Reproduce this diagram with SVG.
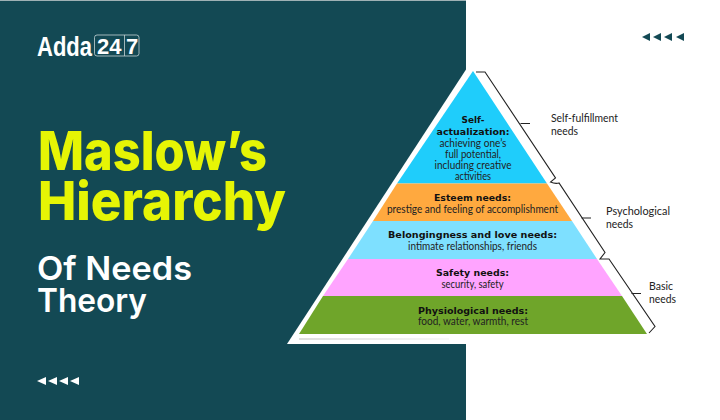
<svg xmlns="http://www.w3.org/2000/svg" width="720" height="420" viewBox="0 0 720 420">
<defs>
<linearGradient id="fade" x1="0" x2="1" y1="0" y2="0"><stop offset="0" stop-color="#bdbdbd"/><stop offset="1" stop-color="#f2f2f2"/></linearGradient>
</defs>
<style>
.title{font-family:"Inter","Liberation Sans",sans-serif;font-weight:800;font-size:54px;fill:#e6f505}
.sub{font-family:"Inter","Liberation Sans",sans-serif;font-weight:600;font-size:33px;fill:#fff}
.h{font-family:"DejaVu Sans","Liberation Sans",sans-serif;font-weight:700;font-size:9.5px;fill:#111;text-anchor:middle}
.b{font-family:"Lato","Liberation Sans",sans-serif;font-size:10.5px;fill:#222;text-anchor:middle}
.l{font-family:"Lato","Liberation Sans",sans-serif;font-size:11px;fill:#222}
.logo{font-family:"Liberation Sans",sans-serif;font-weight:700;fill:#fff}
.br{fill:none;stroke:#222;stroke-width:1.1}
</style>
<rect width="720" height="420" fill="#fff"/>
<g id="panel">
<rect width="466" height="420" fill="#134954"/>
<rect width="466" height="1" fill="#9fb1b5"/>
<polygon points="467,68 466,344 287,344" fill="#fff"/>
<rect x="466" y="60" width="10" height="290" fill="#fff"/>
<rect x="299" y="338.5" width="150" height="1" fill="url(#fade)"/>
</g>
<g id="logo">
<text class="logo" transform="translate(37,55.5) scale(1,1.25)" font-size="22">Adda</text>
<rect x="94.5" y="35" width="44.5" height="21" rx="2.5" fill="none" stroke="#c5d3d6" stroke-width="0.8"/>
<line x1="124.5" y1="35" x2="124.5" y2="56" stroke="#c5d3d6" stroke-width="0.8"/>
<text class="logo" x="97" y="53.5" font-size="22">24</text>
<text class="logo" x="126" y="53.5" font-size="22">7</text>
</g>
<g id="title">
<text class="title" x="38" y="170" textLength="229" lengthAdjust="spacingAndGlyphs">Maslow’s</text>
<text class="title" x="38" y="220" textLength="248" lengthAdjust="spacingAndGlyphs">Hierarchy</text>
<text class="sub" x="37" y="280" textLength="155" lengthAdjust="spacingAndGlyphs">Of Needs</text>
<text class="sub" x="37" y="312" textLength="110" lengthAdjust="spacingAndGlyphs">Theory</text>
</g>
<g id="pyramid-top">
<polygon points="473,71 547,183.5 397,183.5" fill="#1fcdfb"/>
<text class="h" x="473" y="123" textLength="23" lengthAdjust="spacingAndGlyphs">Self-</text>
<text class="h" x="473" y="135" textLength="73" lengthAdjust="spacingAndGlyphs">actualization:</text>
<text class="b" x="473" y="147" textLength="67" lengthAdjust="spacingAndGlyphs">achieving one’s</text>
<text class="b" x="473" y="158" textLength="56" lengthAdjust="spacingAndGlyphs">full potential,</text>
<text class="b" x="473" y="169" textLength="77" lengthAdjust="spacingAndGlyphs">including creative</text>
<text class="b" x="473" y="180" textLength="36" lengthAdjust="spacingAndGlyphs">activities</text>
</g>
<g id="pyramid-esteem">
<polygon points="397,183.5 547,183.5 572,221 373,221" fill="#ffa93f"/>
<text class="h" x="472.5" y="201" textLength="77" lengthAdjust="spacingAndGlyphs">Esteem needs:</text>
<text class="b" x="472.5" y="213" textLength="171" lengthAdjust="spacingAndGlyphs">prestige and feeling of accomplishment</text>
</g>
<g id="pyramid-belonging">
<polygon points="373,221 572,221 597,259 348,259" fill="#7ee0ff"/>
<text class="h" x="472.5" y="238" textLength="169" lengthAdjust="spacingAndGlyphs">Belongingness and love needs:</text>
<text class="b" x="472.5" y="249.5" textLength="129" lengthAdjust="spacingAndGlyphs">intimate relationships, friends</text>
</g>
<g id="pyramid-safety">
<polygon points="348,259 597,259 622,296 323,296" fill="#ffa4ff"/>
<text class="h" x="472.5" y="276" textLength="73" lengthAdjust="spacingAndGlyphs">Safety needs:</text>
<text class="b" x="472.5" y="287.5" textLength="62" lengthAdjust="spacingAndGlyphs">security, safety</text>
</g>
<g id="pyramid-physiological">
<polygon points="323,296 622,296 647,334 299,334" fill="#6fa52a"/>
<text class="h" x="473" y="313.5" textLength="110" lengthAdjust="spacingAndGlyphs">Physiological needs:</text>
<text class="b" x="473" y="325" textLength="110" lengthAdjust="spacingAndGlyphs">food, water, warmth, rest</text>
</g>
<g id="connectors">
<path class="br" d="M476,72H485L555.5,178L550.5,182Q555,184 559,183L605,252.5L600,259H609L655,326.5L649,333"/>
<path class="br" d="M520.5,123.5H530M581.5,218H591M631.5,293.5H641"/>
</g>
<g id="labels">
<text class="l" x="551" y="122" textLength="67" lengthAdjust="spacingAndGlyphs">Self-fulfillment</text>
<text class="l" x="551" y="135" textLength="27" lengthAdjust="spacingAndGlyphs">needs</text>
<text class="l" x="606" y="215" textLength="64" lengthAdjust="spacingAndGlyphs">Psychological</text>
<text class="l" x="606" y="228" textLength="27" lengthAdjust="spacingAndGlyphs">needs</text>
<text class="l" x="649" y="290" textLength="24" lengthAdjust="spacingAndGlyphs">Basic</text>
<text class="l" x="649" y="303" textLength="27" lengthAdjust="spacingAndGlyphs">needs</text>
</g>
<g id="arrows-top" fill="#134954">
<polygon points="642,37 650,33 650,41"/>
<polygon points="653,37 661,33 661,41"/>
<polygon points="664,37 672,33 672,41"/>
<polygon points="676,37 684,33 684,41"/>
</g>
<g id="arrows-bottom" fill="#fff">
<polygon points="37,381 46,377 46,385"/>
<polygon points="48,381 57,377 57,385"/>
<polygon points="59,381 68,377 68,385"/>
<polygon points="70,381 79,377 79,385"/>
</g>
</svg>
